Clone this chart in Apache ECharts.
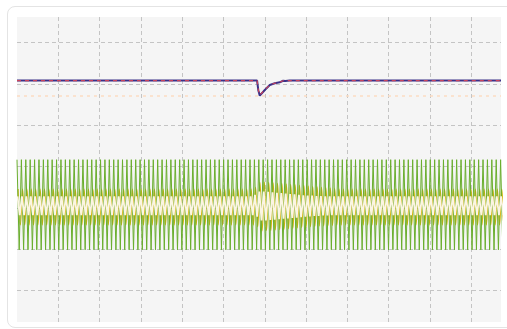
<!DOCTYPE html>
<html>
<head>
<meta charset="utf-8">
<script src="https://cdn.jsdelivr.net/npm/echarts@6/dist/echarts.min.js"></script>
<style>
html,body{margin:0;padding:0;background:#fff;width:507px;height:329px;overflow:hidden;}
#card{position:absolute;left:7px;top:6px;width:530px;height:320px;border:1.5px solid #e4e4e4;border-radius:8px;background:#fff;}
#chart{position:absolute;left:0;top:0;width:507px;height:329px;}
</style>
</head>
<body>
<div id="card"></div>
<div id="chart"></div>
<script>
// Trace A (solid) and trace B (dashed) : upper line with dip
const traceTimes = [0, 5.814, 5.843, 5.879, 5.92, 6.0, 6.121, 6.242, 6.363, 6.443, 6.5, 6.6, 11.72];
const traceA = [5.083, 5.083, 4.85, 4.72, 4.71, 4.856, 4.977, 5.018, 5.042, 5.08, 5.075, 5.083, 5.083];
const traceB = [5.083, 5.083, 4.86, 4.73, 4.72, 4.86, 4.98, 5.02, 5.045, 5.08, 5.078, 5.083, 5.083];
// reference level
const refLevel = 4.71;
// waveform peaks, one value per half cycle
const halfStep = 0.05323;
const greenPeaks = [
3.17,0.99,3.17,0.99,3.17,0.99,3.17,0.99,3.17,0.99,
3.17,0.99,3.17,0.99,3.17,0.99,3.17,0.99,3.17,0.99,
3.17,0.99,3.17,0.99,3.17,0.99,3.17,0.99,3.17,0.99,
3.17,0.99,3.17,0.99,3.17,0.99,3.17,0.99,3.17,0.99,
3.17,0.99,3.17,0.99,3.17,0.99,3.17,0.99,3.17,0.99,
3.17,0.99,3.17,0.99,3.17,0.99,3.17,0.99,3.17,0.99,
3.17,0.99,3.17,0.99,3.17,0.99,3.17,0.99,3.17,0.99,
3.17,0.99,3.17,0.99,3.17,0.99,3.17,0.99,3.17,0.99,
3.17,0.99,3.17,0.99,3.17,0.99,3.17,0.99,3.17,0.99,
3.17,0.99,3.17,0.99,3.17,0.99,3.17,0.99,3.17,0.99,
3.17,0.99,3.17,0.99,3.17,0.99,3.17,0.99,3.17,0.99,
3.17,0.99,3.17,0.99,3.17,0.99,3.17,0.99,3.17,0.99,
3.17,0.99,3.17,0.99,3.17,0.99,3.17,0.99,3.17,0.99,
3.17,0.99,3.17,0.99,3.17,0.99,3.17,0.99,3.17,0.99,
3.17,0.99,3.17,0.99,3.17,0.99,3.17,0.99,3.17,0.99,
3.17,0.99,3.17,0.99,3.17,0.99,3.17,0.99,3.17,0.99,
3.17,0.99,3.17,0.99,3.17,0.99,3.17,0.99,3.17,0.99,
3.17,0.99,3.17,0.99,3.17,0.99,3.17,0.99,3.17,0.99,
3.17,0.99,3.17,0.99,3.17,0.99,3.17,0.99,3.17,0.99,
3.17,0.99,3.17,0.99,3.17,0.99,3.17,0.99,3.17,0.99,
3.17,0.99,3.17,0.99,3.17,0.99,3.17,0.99,3.17,0.99,
3.17,0.99,3.17,0.99,3.17,0.99,3.17,0.99,3.17,0.99,
3.17,0.99,3.17
];
const yellowPeaks = [
2.46,1.59,2.46,1.59,2.46,1.59,2.46,1.59,2.46,1.59,
2.46,1.59,2.46,1.59,2.46,1.59,2.46,1.59,2.46,1.59,
2.46,1.59,2.46,1.59,2.46,1.59,2.46,1.59,2.46,1.59,
2.46,1.59,2.46,1.59,2.46,1.59,2.46,1.59,2.46,1.59,
2.46,1.59,2.46,1.59,2.46,1.59,2.46,1.59,2.46,1.59,
2.46,1.59,2.46,1.59,2.46,1.59,2.46,1.59,2.46,1.59,
2.46,1.59,2.46,1.59,2.46,1.59,2.46,1.59,2.46,1.59,
2.46,1.59,2.46,1.59,2.46,1.59,2.46,1.59,2.46,1.59,
2.46,1.59,2.46,1.59,2.46,1.59,2.46,1.59,2.46,1.59,
2.46,1.59,2.46,1.59,2.46,1.59,2.46,1.59,2.46,1.59,
2.46,1.59,2.46,1.59,2.46,1.59,2.46,1.59,
2.50,1.55,2.62,1.45,2.63,1.46,2.62,1.46,2.61,1.47,
2.60,1.48,2.59,1.49,2.58,1.50,2.57,1.51,2.56,1.52,
2.55,1.53,2.54,1.54,2.53,1.55,2.52,1.56,2.51,1.57,
2.50,1.57,2.49,1.58,2.48,1.58,2.47,1.59,
2.46,1.59,2.46,1.59,2.46,1.59,2.46,1.59,2.46,1.59,
2.46,1.59,2.46,1.59,2.46,1.59,2.46,1.59,2.46,1.59,
2.46,1.59,2.46,1.59,2.46,1.59,2.46,1.59,2.46,1.59,
2.46,1.59,2.46,1.59,2.46,1.59,2.46,1.59,2.46,1.59,
2.46,1.59,2.46,1.59,2.46,1.59,2.46,1.59,2.46,1.59,
2.46,1.59,2.46,1.59,2.46,1.59,2.46,1.59,2.46,1.59,
2.46,1.59,2.46,1.59,2.46,1.59,2.46,1.59,2.46,1.59,
2.46,1.59,2.46,1.59,2.46,1.59,
2.46
];
const palePeaks = [
2.28,1.83,2.28,1.83,2.28,1.83,2.28,1.83,2.28,1.83,
2.28,1.83,2.28,1.83,2.28,1.83,2.28,1.83,2.28,1.83,
2.28,1.83,2.28,1.83,2.28,1.83,2.28,1.83,2.28,1.83,
2.28,1.83,2.28,1.83,2.28,1.83,2.28,1.83,2.28,1.83,
2.28,1.83,2.28,1.83,2.28,1.83,2.28,1.83,2.28,1.83,
2.28,1.83,2.28,1.83,2.28,1.83,2.28,1.83,2.28,1.83,
2.28,1.83,2.28,1.83,2.28,1.83,2.28,1.83,2.28,1.83,
2.28,1.83,2.28,1.83,2.28,1.83,2.28,1.83,2.28,1.83,
2.28,1.83,2.28,1.83,2.28,1.83,2.28,1.83,2.28,1.83,
2.28,1.83,2.28,1.83,2.28,1.83,2.28,1.83,2.28,1.83,
2.28,1.83,2.28,1.83,2.28,1.83,2.28,1.83,
2.32,1.79,2.40,1.70,2.40,1.70,2.39,1.71,2.38,1.72,
2.37,1.73,2.36,1.74,2.35,1.75,2.34,1.76,2.33,1.77,
2.32,1.78,2.31,1.79,2.30,1.80,2.30,1.81,2.29,1.81,
2.29,1.82,2.28,1.82,2.28,1.83,2.28,1.83,
2.28,1.83,2.28,1.83,2.28,1.83,2.28,1.83,2.28,1.83,
2.28,1.83,2.28,1.83,2.28,1.83,2.28,1.83,2.28,1.83,
2.28,1.83,2.28,1.83,2.28,1.83,2.28,1.83,2.28,1.83,
2.28,1.83,2.28,1.83,2.28,1.83,2.28,1.83,2.28,1.83,
2.28,1.83,2.28,1.83,2.28,1.83,2.28,1.83,2.28,1.83,
2.28,1.83,2.28,1.83,2.28,1.83,2.28,1.83,2.28,1.83,
2.28,1.83,2.28,1.83,2.28,1.83,2.28,1.83,2.28,1.83,
2.28,1.83,2.28,1.83,2.28,1.83,
2.28
];

function pairs(times, vals){ return vals.map((v,i)=>[times[i], v]); }
function halfCycleSeries(vals, offset){ return vals.map((v,i)=>[offset + i*halfStep, v]); }

const chart = echarts.init(document.getElementById('chart'), null, {renderer:'canvas'});
chart.setOption({
  animation:false,
  backgroundColor:'transparent',
  grid:{left:17, top:17, width:484, height:305, show:true, backgroundColor:'#f5f5f5', borderWidth:0},
  xAxis:{type:'value', min:0, max:11.72, splitNumber:12,
    axisLine:{show:false}, axisTick:{show:false}, axisLabel:{show:false},
    splitLine:{show:true, showMinLine:false, showMaxLine:false, lineStyle:{color:'#c4c4c4', type:[4,3], width:1}}},
  yAxis:{type:'value', min:-0.757, max:6.622, splitNumber:7,
    axisLine:{show:false}, axisTick:{show:false}, axisLabel:{show:false},
    splitLine:{show:true, showMinLine:false, showMaxLine:false, lineStyle:{color:'#c4c4c4', type:[4,3], width:1}}},
  series:[
    {type:'line', name:'ref', data:[[0,refLevel],[11.72,refLevel]], symbol:'none',
      lineStyle:{color:'#fbdcc2', width:1.5, type:[3,4]}, z:1},
    {type:'line', name:'yellow', data:halfCycleSeries(yellowPeaks, 0.0266), symbol:'none', smooth:true,
      lineStyle:{color:'#d2b60c', width:1.2}, z:2},
    {type:'line', name:'green', data:halfCycleSeries(greenPeaks, 0), symbol:'none', smooth:false,
      lineStyle:{color:'#6aae2e', width:1}, z:3},
    {type:'line', name:'pale', data:halfCycleSeries(palePeaks, 0.013), symbol:'none', smooth:false,
      lineStyle:{color:'#fbf5e4', width:1.8}, z:4},
    {type:'line', name:'A', data:pairs(traceTimes, traceA), symbol:'none',
      lineStyle:{color:'#3a3088', width:2}, z:5},
    {type:'line', name:'B', data:pairs(traceTimes, traceB), symbol:'none',
      lineStyle:{color:'#c9435c', width:1.2, type:[4,4]}, z:6}
  ]
});
</script>
</body>
</html>
